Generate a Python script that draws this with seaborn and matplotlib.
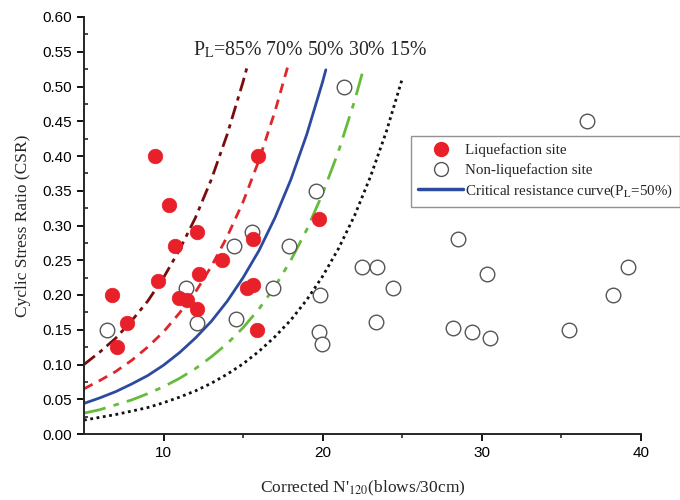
import numpy as np
import pandas as pd
import matplotlib.pyplot as plt
import seaborn as sns
from matplotlib.lines import Line2D

# liquefaction sites (filled red)
liq_n = [9.47, 10.35, 12.1, 15.94, 10.7, 15.6, 19.8, 6.76, 7.7, 7.1,
         9.65, 11.0, 11.5, 12.1, 12.2, 13.7, 15.25, 15.6, 15.9]
liq_csr = [0.40, 0.33, 0.29, 0.40, 0.27, 0.28, 0.31, 0.20, 0.16, 0.125,
           0.22, 0.196, 0.193, 0.18, 0.23, 0.25, 0.21, 0.215, 0.15]

# non-liquefaction sites (open circles)
non_n = [19.6, 15.55, 14.4, 17.9, 21.35, 36.6, 28.5, 6.45, 11.4, 12.1,
         14.55, 16.9, 19.85, 19.8, 19.95, 22.5, 23.4, 24.4, 23.35, 30.35,
         28.2, 29.4, 30.5, 35.45, 39.2, 38.25]
non_csr = [0.35, 0.29, 0.27, 0.27, 0.50, 0.45, 0.28, 0.15, 0.21, 0.16,
           0.165, 0.21, 0.20, 0.147, 0.13, 0.24, 0.24, 0.21, 0.161, 0.23,
           0.153, 0.147, 0.138, 0.15, 0.24, 0.20]

# probability curves
pl85_n = [5, 6, 7, 8, 9, 10, 11, 12, 13, 14, 15, 15.25]
pl85_csr = [0.100, 0.118, 0.138, 0.163, 0.191, 0.225, 0.265, 0.311, 0.366, 0.431, 0.507, 0.528]
pl70_n = [5, 6, 7, 8, 9, 10, 11, 12, 13, 14, 15, 16, 17, 17.8]
pl70_csr = [0.065, 0.077, 0.090, 0.106, 0.125, 0.147, 0.174, 0.204, 0.241, 0.284, 0.334, 0.394, 0.464, 0.528]
pl50_n = [5, 6, 7, 8, 9, 10, 11, 12, 13, 14, 15, 16, 17, 18, 19, 20, 20.2]
pl50_csr = [0.044, 0.052, 0.061, 0.072, 0.084, 0.099, 0.117, 0.138, 0.162, 0.191, 0.225,
            0.264, 0.311, 0.366, 0.431, 0.507, 0.524]
pl30_n = [5, 6, 7, 8, 9, 10, 11, 12, 13, 14, 15, 16, 17, 18, 19, 20, 21, 22, 22.55]
pl30_csr = [0.030, 0.035, 0.042, 0.049, 0.058, 0.068, 0.080, 0.094, 0.111, 0.130, 0.153,
            0.180, 0.212, 0.250, 0.294, 0.346, 0.407, 0.479, 0.524]
pl15_n = [5, 6, 7, 8, 9, 10, 11, 12, 13, 14, 15, 16, 17, 18, 19, 20, 21, 22, 23, 24, 25]
pl15_csr = [0.020, 0.024, 0.028, 0.033, 0.038, 0.045, 0.053, 0.062, 0.073, 0.086, 0.101,
            0.119, 0.140, 0.164, 0.193, 0.227, 0.267, 0.314, 0.370, 0.435, 0.511]

sns.set_style("ticks")
serif = ["Liberation Serif", "DejaVu Serif"]
sans = ["Liberation Sans", "DejaVu Sans"]
plt.rcParams['font.family'] = sans
plt.rcParams['mathtext.fontset'] = 'stix'

fig = plt.figure(figsize=(6.8, 5.0), dpi=100)
ax = fig.add_axes([0.1235, 0.132, 0.819, 0.834])

curves = [
    (pl85_n, pl85_csr, "#7a0c0c", (0, (5, 2, 1.5, 2))),
    (pl70_n, pl70_csr, "#e0262b", (0, (3.5, 2.5))),
    (pl50_n, pl50_csr, "#2d4b9e", "-"),
    (pl30_n, pl30_csr, "#66bb3a", (0, (8, 3, 2, 3))),
    (pl15_n, pl15_csr, "#111111", (0, (1, 1.3))),
]
for xs, ys, col, ls in curves:
    df = pd.DataFrame({"n": xs, "csr": ys})
    sns.lineplot(data=df, x="n", y="csr", ax=ax, color=col, linewidth=2.0,
                 linestyle=ls, sort=True, estimator=None)

liq = pd.DataFrame({"n": liq_n, "csr": liq_csr})
non = pd.DataFrame({"n": non_n, "csr": non_csr})
sns.scatterplot(data=non, x="n", y="csr", ax=ax, s=110, facecolor="white",
                edgecolor="#555555", linewidth=1.0, zorder=3)
sns.scatterplot(data=liq, x="n", y="csr", ax=ax, s=110, color="#e8202a",
                edgecolor="#e8202a", linewidth=0.5, zorder=4)

ax.set_xlim(5, 40)
ax.set_ylim(0, 0.6)
ax.set_xticks([10, 20, 30, 40])
ax.set_xticks([15, 25, 35], minor=True)
ax.set_yticks(np.arange(0, 0.61, 0.05))
ax.set_yticks(np.arange(0.025, 0.6, 0.05), minor=True)
ax.yaxis.set_major_formatter(plt.FormatStrFormatter("%.2f"))
ax.tick_params(axis="both", which="major", direction="out", length=5, width=1.3,
               labelsize=11, colors="black")
ax.tick_params(axis="y", which="minor", direction="in", length=3, width=1.2)
ax.tick_params(axis="x", which="minor", direction="out", length=3, width=1.2)
for s in ["top", "right"]:
    ax.spines[s].set_visible(False)
for s in ["left", "bottom"]:
    ax.spines[s].set_linewidth(1.4)

ax.set_xlabel("Corrected N'$_{120}$(blows/30cm)", family=serif, fontsize=12.5, labelpad=14)
ax.set_ylabel("Cyclic Stress Ratio (CSR)", family=serif, fontsize=12.5, labelpad=8)

ax.text(5.0 + (193 - 84) / 15.9, 0.553, "P$_{\\rm L}$=85% 70% 50% 30% 15%",
        family=serif, fontsize=14.2, va="center", ha="left")

handles = [
    Line2D([], [], marker="o", linestyle="none", markersize=10,
           markerfacecolor="#e8202a", markeredgecolor="#e8202a"),
    Line2D([], [], marker="o", linestyle="none", markersize=10,
           markerfacecolor="white", markeredgecolor="#555555"),
    Line2D([], [], color="#2d4b9e", linewidth=2.5),
]
labels = ["Liquefaction site", "Non-liquefaction site",
          "Critical resistance curve(P$_{\\rm L}$=50%)"]
leg = fig.legend(handles, labels, loc="upper left", bbox_to_anchor=(0.604, 0.728),
                 bbox_transform=fig.transFigure, frameon=True, fancybox=False,
                 prop={"family": serif, "size": 10.8}, handlelength=3.0,
                 handletextpad=0.12, borderpad=0.5, labelspacing=0.38,
                 borderaxespad=0.0)
leg.get_frame().set_edgecolor("#777777")
leg.get_frame().set_linewidth(1.0)

fig.savefig("out.png", dpi=100)
